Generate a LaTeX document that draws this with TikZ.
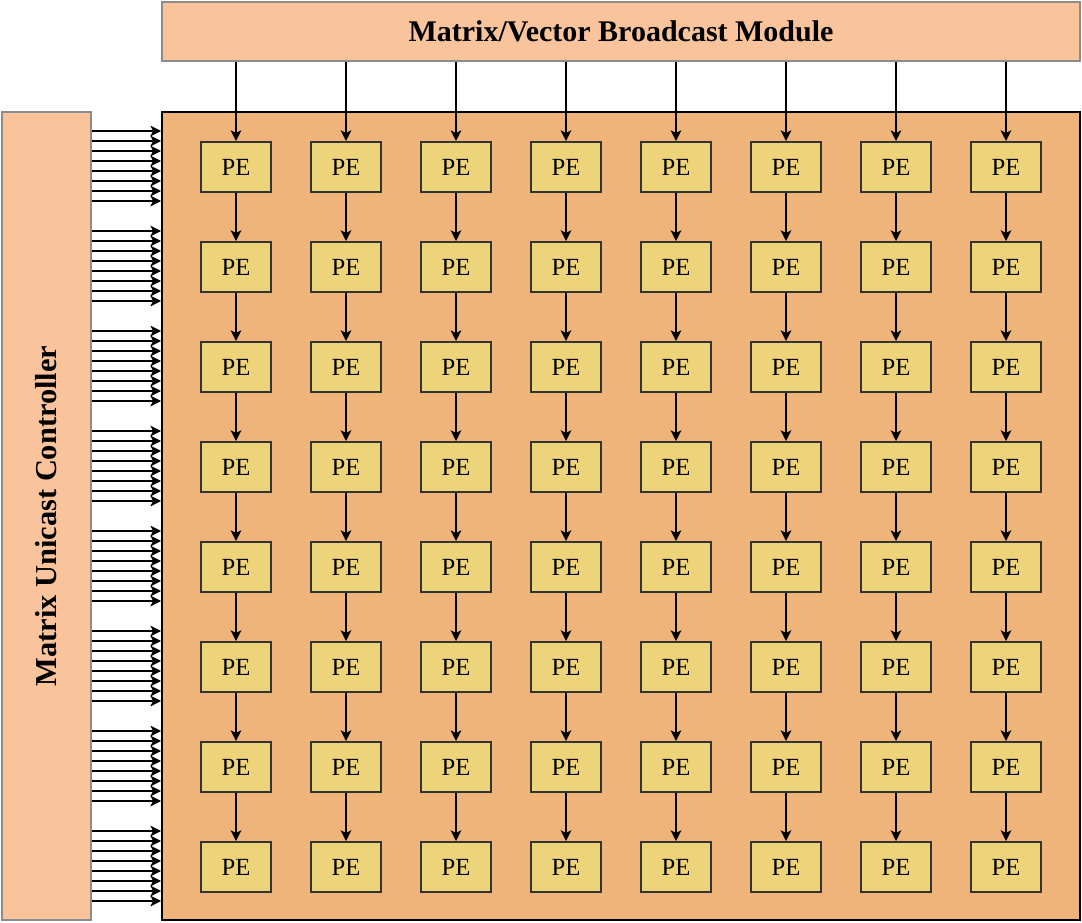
\documentclass[tikz,border=0pt]{standalone}
\usepackage{fontspec}
\setmainfont{Liberation Serif}
\usetikzlibrary{arrows.meta}

\definecolor{peach}{RGB}{249,196,156}
\definecolor{arraybg}{RGB}{239,180,122}
\definecolor{pefill}{RGB}{237,212,122}

\tikzset{
  module/.style={draw=black!45,line width=1.5pt,fill=peach,inner sep=0pt,
    font=\fontsize{22.5}{27}\selectfont\bfseries},
  pe/.style={draw=black!80,line width=1.5pt,fill=pefill,inner sep=0pt,
    minimum width=52.5pt,minimum height=37.5pt,font=\fontsize{18.5}{22}\selectfont},
  arr/.style={line width=1.35pt,-{Stealth[length=8pt,width=8pt,inset=2pt]}}
}

\begin{document}
\begin{tikzpicture}[x=0.75pt,y=-0.75pt]
\useasboundingbox (0,0) rectangle (1082,922);

% modules
\node[module,minimum width=688.5pt,minimum height=44.25pt] (bcast) at (621,31.5)
  {Matrix/Vector Broadcast Module};
\node[module,minimum width=66.75pt,minimum height=606pt] (ucast) at (46.5,516) {};
\node[rotate=90,font=\fontsize{22.8}{27}\selectfont\bfseries] at (ucast.center)
  {Matrix Unicast Controller};
\node[draw,line width=1.3pt,fill=arraybg,inner sep=0pt,
  minimum width=688.5pt,minimum height=606pt] (array) at (621,516) {};

% PE grid
\foreach \r in {0,...,7}
  \foreach \c in {0,...,7}
    \node[pe] (pe-\r-\c) at ({236+110*\c},{167+100*\r}) {PE};

% broadcast into the first row
\foreach \c in {0,...,7}
  \draw[arr] (bcast.south -| pe-0-\c) -- (pe-0-\c.north);

% down the columns
\foreach \r [evaluate=\r as \n using int(\r+1)] in {0,...,6}
  \foreach \c in {0,...,7}
    \draw[arr] (pe-\r-\c.south) -- (pe-\n-\c.north);

% unicast lines, eight per row
\foreach \r in {0,...,7}
  \foreach \k in {0,...,7}
    \draw[arr] (ucast.east |- 0,{131+100*\r+10*\k}) -- (array.west |- 0,{131+100*\r+10*\k});
\end{tikzpicture}
\end{document}
